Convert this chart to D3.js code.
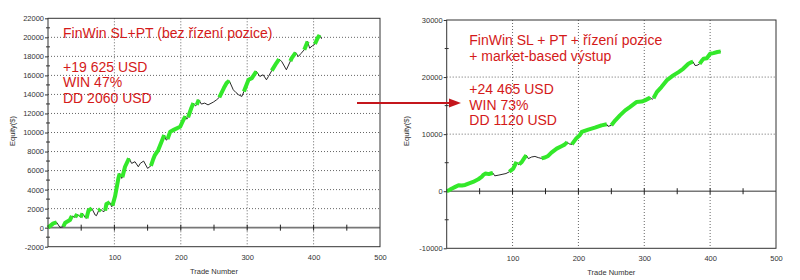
<!DOCTYPE html>
<html><head><meta charset="utf-8">
<script src="https://cdn.jsdelivr.net/npm/d3@7"></script>
<style>
html,body{margin:0;padding:0;background:#fff;}
svg{display:block;font-family:"Liberation Sans",Arial,sans-serif;}
</style></head>
<body>
<svg id="c" width="800" height="280"></svg>
<script>
// ---- data ----
const leftTrades = [0,8,13,18,23,26,33,36,41,44,49,52,57,58,61,66,71,73,76,79,83,86,88,93,96,97,101,106,108,111,112,116,122,126,131,136,139,144,150,155,158,161,166,171,175,178,180,184,190,199,204,207,209,211,216,219,222,224,227,231,236,241,249,254,258,265,269,273,279,283,287,292,295,302,307,312,314,319,324,329,332,337,344,348,352,359,365,367,373,377,381,386,391,394,398,402,406,409,412];
const leftEquity = [0,455,560,35,105,525,805,1225,1085,1435,1085,1505,980,1000,1800,2030,1330,1260,1750,1960,1680,1800,2485,2660,2200,2300,3300,5180,5700,5180,5300,6400,7280,6755,6930,6400,6755,7000,6230,6500,7100,7630,8155,9030,9730,9200,9300,10080,10300,10600,11340,11700,11400,11600,12600,13090,12800,12900,13440,12985,13090,12900,13195,13440,13700,14700,15190,15435,14490,14200,13965,13790,14300,15540,15715,16240,16415,15890,16065,15540,15890,16500,17300,17700,17465,16590,17500,17815,18400,17990,18300,18700,19565,18865,19100,19300,19915,20250,19850];
// trade ranges drawn as winning (green) runs
const leftWinRuns = [[0,13],[23,36],[41,44],[49,52],[58,66],[76,79],[86,93],[97,108],[112,122],[155,175],[180,207],[211,219],[224,227],[258,273],[295,314],[337,348],[365,373],[386,391],[402,409]];

const rightTrades = [0,4,8,13,18,23,28,33,40,48,53,56,59,64,68,70,73,78,84,90,95,101,106,109,110,114,119,121,124,129,134,139,144,149,154,159,167,175,179,183,186,190,197,202,205,215,225,235,243,245,250,256,263,271,278,288,296,301,309,312,314,319,326,334,344,352,359,367,372,374,377,380,384,387,390,395,400,405,411,416];
const rightEquity = [0,200,470,760,1050,1000,1100,1340,1630,2100,2500,2900,3090,3000,3150,3200,2700,2800,2950,3100,3400,3960,5130,4660,4700,5130,6000,6300,5710,6000,6100,5890,5750,5900,6180,6760,7460,7930,8160,8600,8300,8200,9300,9800,10380,10790,11130,11540,11720,11370,11540,12420,13290,14170,14750,15620,15700,15920,16400,16100,16300,17370,18250,19410,20290,20870,21450,22330,22630,22700,22040,22050,22300,22800,23220,23300,24080,24200,24400,24465];
const rightWinRuns = [[0,70],[95,106],[110,121],[144,183],[190,243],[250,309],[314,374],[384,416]];

const xTickLabels = [100,200,300,400,500];
const leftYTicks = [-2000,0,2000,4000,6000,8000,10000,12000,14000,16000,18000,20000,22000];
const rightYTicks = [-10000,0,10000,20000,30000];
const rightYMinor = [-5000,5000,15000,25000];
const leftYMinor = [-1000,1000,3000,5000,7000,9000,11000,13000,15000,17000,19000,21000];

const leftText = ["FinWin SL+PT (bez řízení pozice)", "+19 625 USD", "WIN 47%", "DD 2060 USD"];
const rightText = ["FinWin SL + PT + řízení pozice", "+ market-based výstup", "+24 465 USD", "WIN 73%", "DD 1120 USD"];

const svg = d3.select("#c");
const RED = "#d41a1a";
const GREEN = "#33e82a";

function drawChart(cfg) {
  const x = d3.scaleLinear().domain([0,500]).range([cfg.x0, cfg.x1]);
  const y = d3.scaleLinear().domain(cfg.yDomain).range([cfg.y1, cfg.y0]);
  const g = svg.append("g");

  // horizontal dotted grid
  g.selectAll(".hg").data(cfg.yTicks.filter(v => v !== 0 && v !== cfg.yDomain[0] && v !== cfg.yDomain[1]))
    .enter().append("line")
    .attr("x1", cfg.x0).attr("x2", cfg.x1)
    .attr("y1", d => y(d)).attr("y2", d => y(d))
    .attr("stroke", "#666").attr("stroke-width", 1).attr("stroke-dasharray", "1,2");
  // vertical dotted grid
  g.selectAll(".vg").data([100,200,300,400]).enter().append("line")
    .attr("x1", d => x(d)).attr("x2", d => x(d))
    .attr("y1", cfg.y0).attr("y2", cfg.y1)
    .attr("stroke", "#666").attr("stroke-width", 1).attr("stroke-dasharray", "1,2");

  // zero line
  g.append("line").attr("x1", cfg.x0).attr("x2", cfg.x1)
    .attr("y1", y(0)).attr("y2", y(0)).attr("stroke", "#777").attr("stroke-width", 1.6);
  g.selectAll(".zt").data([50,100,150,200,250,300,350,400,450]).enter().append("line")
    .attr("x1", d => x(d)).attr("x2", d => x(d))
    .attr("y1", y(0) - 3).attr("y2", y(0) + 3)
    .attr("stroke", "#222").attr("stroke-width", 1);

  // equity: thin black line, thick green on winning runs
  const pts = cfg.trades.map((t, i) => [t, cfg.values[i]]);
  const line = d3.line().x(d => x(d[0])).y(d => y(d[1]));
  g.append("path").datum(pts).attr("d", line)
    .attr("fill", "none").attr("stroke", "#111").attr("stroke-width", 0.9);
  g.selectAll(".up").data(cfg.runs).enter().append("path")
    .attr("d", r => line(pts.filter(p => p[0] >= r[0] && p[0] <= r[1])))
    .attr("fill", "none").attr("stroke", GREEN).attr("stroke-width", 4)
    .attr("stroke-linecap", "butt").attr("stroke-linejoin", "round");

  // frame
  g.append("rect").attr("x", cfg.x0).attr("y", cfg.y0)
    .attr("width", cfg.x1 - cfg.x0).attr("height", cfg.y1 - cfg.y0)
    .attr("fill", "none").attr("stroke", "#333").attr("stroke-width", 1);

  // y axis
  const ya = g.append("g").attr("transform", `translate(${cfg.x0},0)`)
    .call(d3.axisLeft(y).tickValues(cfg.yTicks).tickSize(3).tickPadding(1).tickFormat(d => String(d)));
  ya.select(".domain").remove();
  ya.selectAll("line").attr("stroke", "#333");
  ya.selectAll("text").attr("font-size", 7.5).attr("fill", "#333").attr("font-family", "Liberation Sans, Arial, sans-serif");
  g.selectAll(".ym").data(cfg.yMinor).enter().append("line")
    .attr("x1", cfg.x0 - 2).attr("x2", cfg.x0 + 2)
    .attr("y1", d => y(d)).attr("y2", d => y(d)).attr("stroke", "#333");

  // x axis
  const xa = g.append("g").attr("transform", `translate(0,${cfg.y1})`)
    .call(d3.axisBottom(x).tickValues(xTickLabels).tickSize(0).tickPadding(7.5).tickFormat(d => String(d)));
  xa.select(".domain").remove();
  xa.selectAll("text").attr("font-size", 7.5).attr("fill", "#333").attr("font-family", "Liberation Sans, Arial, sans-serif");

  // axis titles
  g.append("text").attr("x", (cfg.x0 + cfg.x1) / 2).attr("y", cfg.titleY)
    .attr("text-anchor", "middle").attr("font-size", 7.5).attr("fill", "#333").text("Trade Number");
  g.append("text").attr("transform", `translate(${cfg.eqX},131) rotate(-90)`)
    .attr("text-anchor", "middle").attr("font-size", 7.5).attr("fill", "#333").text("Equity($)");

  // annotation
  g.selectAll(".ann").data(cfg.text).enter().append("text")
    .attr("x", cfg.textX).attr("y", (d, i) => cfg.textY[i])
    .attr("font-size", 14).attr("fill", RED).text(d => d);
}

drawChart({x0: 48, x1: 380, y0: 18.3, y1: 246.7, yDomain: [-2000, 22000],
  yTicks: leftYTicks, yMinor: leftYMinor, trades: leftTrades, values: leftEquity, runs: leftWinRuns,
  titleY: 273.5, eqX: 15, text: leftText, textX: 63, textY: [38.3, 71.7, 87.3, 103.3]});

drawChart({x0: 446.7, x1: 776, y0: 20, y1: 248.3, yDomain: [-10000, 30000],
  yTicks: rightYTicks, yMinor: rightYMinor, trades: rightTrades, values: rightEquity, runs: rightWinRuns,
  titleY: 275, eqX: 409, text: rightText, textX: 469.3, textY: [45, 60.5, 94, 109.5, 125]});

// arrow between charts
svg.append("line").attr("x1", 357).attr("x2", 451).attr("y1", 103).attr("y2", 103)
  .attr("stroke", "#c4161c").attr("stroke-width", 2);
svg.append("path").attr("d", "M449,98.5 L461,103 L449,107.5 Z").attr("fill", "#c4161c");
</script>
</body></html>
